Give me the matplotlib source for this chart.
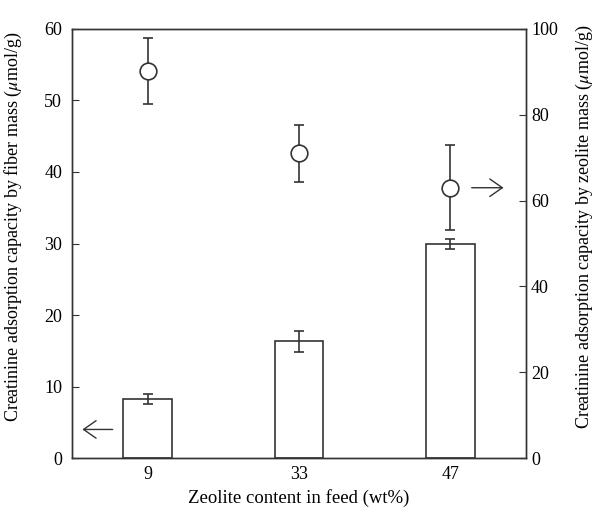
import matplotlib
matplotlib.use('Agg')
from matplotlib import pyplot as plt
import numpy as np

plt.rcParams['font.family'] = ['Liberation Serif', 'DejaVu Serif']
plt.rcParams['mathtext.fontset'] = 'stix'

zeolite = ['9', '33', '47']
fiber_cap = [8.2, 16.3, 30.0]
fiber_err = [0.7, 1.5, 0.7]
zeo_cap = [90.3, 71.0, 63.0]
zeo_err = [7.7, 6.7, 9.9]

col = '#333333'
x = np.arange(len(zeolite))

fig = plt.figure(figsize=(5.98, 5.17), dpi=100)
ax = fig.add_axes([0.120, 0.114, 0.760, 0.830])
ax.bar(x, fiber_cap, width=0.32, color='white', edgecolor=col, linewidth=1.2,
       yerr=fiber_err, error_kw=dict(ecolor=col, capsize=3.5, elinewidth=1.2, capthick=1.2))
ax.set_xlim(-0.5, 2.5)
ax.set_ylim(0, 60)
ax.set_xticks(x)
ax.set_xticklabels(zeolite)
ax.set_yticks(np.arange(0, 61, 10))
ax.set_xlabel('Zeolite content in feed (wt%)', fontsize=13.5)
ax.set_ylabel(r'Creatinine adsorption capacity by fiber mass ($\mu$mol/g)', fontsize=13)
ax.yaxis.set_label_coords(-0.105, 0.54)
ax.tick_params(direction='in', labelsize=13, color=col, length=5, pad=7)
ax.tick_params(axis='x', length=0, pad=6)

ax2 = ax.twinx()
ax2.errorbar(x, zeo_cap, yerr=zeo_err, fmt='o', ms=12, mfc='white', mec=col, mew=1.2,
             ecolor=col, elinewidth=1.2, capsize=3.5, capthick=1.2, zorder=3)
ax2.set_ylim(0, 100)
ax2.set_yticks(np.arange(0, 101, 20))
ax2.set_ylabel(r'Creatinine adsorption capacity by zeolite mass ($\mu$mol/g)', fontsize=13)
ax2.yaxis.set_label_coords(1.105, 0.54)
ax2.tick_params(direction='in', labelsize=13, color=col, length=5)

for a in (ax, ax2):
    for s in a.spines.values():
        s.set_color(col)
        s.set_linewidth(1.0)

ax.annotate('', xy=(-0.43, 4.0), xytext=(-0.23, 4.0),
            arrowprops=dict(arrowstyle='->,head_length=0.5,head_width=0.35', color=col, lw=1.0,
                            mutation_scale=18, shrinkA=0, shrinkB=0))
ax2.annotate('', xy=(2.35, 63.0), xytext=(2.14, 63.0),
             arrowprops=dict(arrowstyle='->,head_length=0.5,head_width=0.35', color=col, lw=1.0,
                             mutation_scale=18, shrinkA=0, shrinkB=0))

fig.savefig('out.png', dpi=100)
